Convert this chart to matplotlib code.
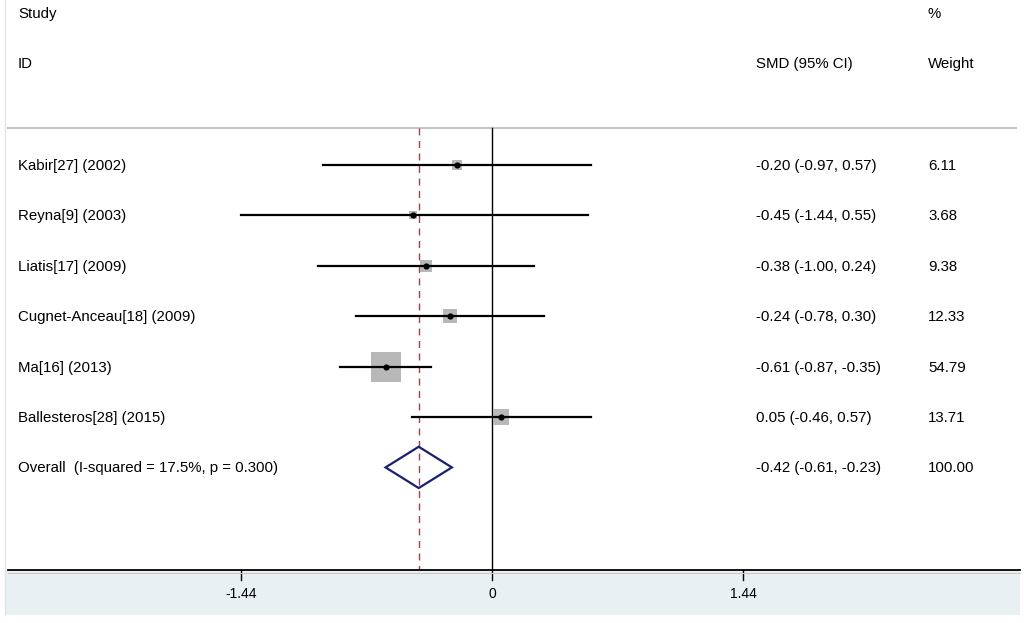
import matplotlib
matplotlib.use("Agg")
import matplotlib.pyplot as plt
from matplotlib.patches import Polygon, Rectangle

plt.rcParams['font.family'] = ['Liberation Sans', 'DejaVu Sans']

# data
studies = ['Kabir[27] (2002)', 'Reyna[9] (2003)', 'Liatis[17] (2009)',
           'Cugnet-Anceau[18] (2009)', 'Ma[16] (2013)', 'Ballesteros[28] (2015)']
smd = [-0.20, -0.45, -0.38, -0.24, -0.61, 0.05]
lo = [-0.97, -1.44, -1.00, -0.78, -0.87, -0.46]
hi = [0.57, 0.55, 0.24, 0.30, -0.35, 0.57]
weights = [6.11, 3.68, 9.38, 12.33, 54.79, 13.71]
overall_label = 'Overall  (I-squared = 17.5%, p = 0.300)'
overall = -0.42
overall_lo = -0.61
overall_hi = -0.23
tick_vals = [-1.44, 0, 1.44]

W, H = 1024, 623
x0px, xscale = 492, 174.5      # pixel of x=0, pixels per unit
y0px, yscale = 165, 50.4       # pixel of row 0, pixels per row


def px_x(p):
    return (p - x0px) / xscale


def px_y(p):
    return (p - y0px) / yscale


fig = plt.figure(figsize=(W / 100, H / 100), dpi=100)
ax = fig.add_axes([0, 0, 1, 1])
ax.set_xlim(px_x(0), px_x(W))
ax.set_ylim(px_y(H), px_y(0))
ax.axis('off')

fs = 10.8
dy = 0.02  # small nudge so text centres sit on the rows
# headers
ax.text(px_x(18), px_y(14), 'Study', fontsize=fs, va='center', ha='left')
ax.text(px_x(18), px_y(64), 'ID', fontsize=fs, va='center', ha='left')
ax.text(px_x(756), px_y(64), 'SMD (95% CI)', fontsize=fs, va='center', ha='left')
ax.text(px_x(928), px_y(14), '%', fontsize=fs, va='center', ha='left')
ax.text(px_x(928), px_y(64), 'Weight', fontsize=fs, va='center', ha='left')

# frame lines
ax.plot([px_x(8), px_x(1016)], [px_y(128)] * 2, color='#c4c4c4', lw=1.5)
ax.plot([px_x(5)] * 2, [px_y(0), px_y(615)], color='#dde6ea', lw=1)
ax.add_patch(Rectangle((px_x(5), px_y(570)), px_x(1020) - px_x(5), px_y(615) - px_y(570),
                       color='#e9f0f2', zorder=0, lw=0))
ax.plot([px_x(8), px_x(1020)], [px_y(570)] * 2, color='black', lw=1.3, zorder=3)
ax.plot([px_x(8), px_x(1020)], [px_y(572.5)] * 2, color='#c8c8c8', lw=0.8, zorder=3)

# reference lines
ax.plot([0, 0], [px_y(128), px_y(570)], color='black', lw=1, zorder=2)
ax.plot([overall, overall], [px_y(128), px_y(570)], color='#a0404a', lw=1,
        ls=(0, (5, 4)), zorder=2)

# ticks
for t in tick_vals:
    ax.plot([t, t], [px_y(570), px_y(580)], color='black', lw=1)
    ax.text(t, px_y(594), f'{t:g}', fontsize=10, ha='center', va='center')

# studies
max_side = 29.0
for i, (name, m, l, h, w) in enumerate(zip(studies, smd, lo, hi, weights)):
    ax.text(px_x(18), i + dy, name, fontsize=fs, va='center', ha='left')
    ax.text(px_x(756), i + dy, f'{m:.2f} ({l:.2f}, {h:.2f})', fontsize=fs, va='center', ha='left')
    ax.text(px_x(928), i + dy, f'{w:.2f}', fontsize=fs, va='center', ha='left')
    side = max_side * (w / max(weights)) ** 0.5 + 1
    ax.scatter([m], [i], s=(side * 0.72) ** 2, marker='s', color='#b8b8b8', zorder=3, lw=0)
    ax.plot([l, h], [i, i], color='black', lw=1.6, zorder=4)
    ax.scatter([m], [i], s=20, color='black', zorder=5, lw=0)

# overall diamond
k = len(studies)
ax.text(px_x(18), k + dy, overall_label, fontsize=fs, va='center', ha='left')
ax.text(px_x(756), k + dy, f'{overall:.2f} ({overall_lo:.2f}, {overall_hi:.2f})',
        fontsize=fs, va='center', ha='left')
ax.text(px_x(928), k + dy, f'{sum(weights):.2f}', fontsize=fs, va='center', ha='left')
dh = 0.41
ax.add_patch(Polygon([[overall_lo, k], [overall, k - dh], [overall_hi, k], [overall, k + dh]],
                     closed=True, fill=False, edgecolor='#1a1f6e', lw=1.6, zorder=4))

fig.savefig('out.png', dpi=100)
